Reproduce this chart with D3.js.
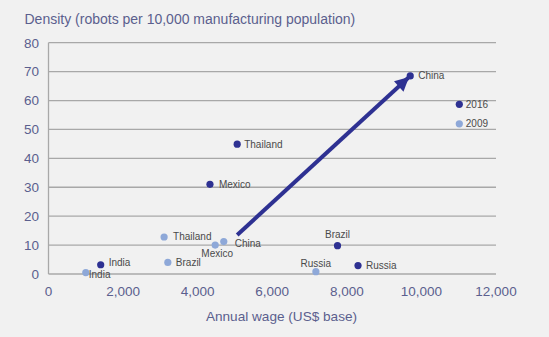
<!DOCTYPE html>
<html>
<head>
<meta charset="utf-8">
<script src="https://cdn.jsdelivr.net/npm/d3@7"></script>
<style>
  html, body { margin: 0; padding: 0; background: #f1f1f1; }
  svg { display: block; font-family: "Liberation Sans", Arial, sans-serif; }
</style>
</head>
<body>
<svg id="chart" width="549" height="337"></svg>
<script>
// Robot density vs annual manufacturing wage, 2009 and 2016
const countries   = ["China", "Thailand", "Mexico", "Brazil", "Russia", "India"];
const wage2016    = [9700, 5060, 4330, 7750, 8300, 1400];
const density2016 = [68.5, 44.9, 31.0, 9.8, 2.9, 3.2];
const wage2009    = [4700, 3100, 4470, 3200, 7170, 1000];
const density2009 = [11.2, 12.8, 10.0, 4.0, 0.8, 0.5];
const xTicks = [0, 2000, 4000, 6000, 8000, 10000, 12000];
const yTicks = [0, 10, 20, 30, 40, 50, 60, 70, 80];
const years  = ["2016", "2009"];
// China's move between the two years, drawn as an arrow
const arrowStart = [5060, 13.5];

// label placement per country: [dx, dy, anchor]
const place2016 = {
  China: [8, 0, "start"], Thailand: [7, 0, "start"], Mexico: [9, 0, "start"],
  Brazil: [0, -11, "middle"], Russia: [8, 0, "start"], India: [8, -2, "start"]
};
const place2009 = {
  China: [11, 1.5, "start"], Thailand: [9, 0, "start"], Mexico: [2, 8, "middle"],
  Brazil: [8, 0, "start"], Russia: [0, -8.5, "middle"], India: [3, 1.5, "start"]
};

const dark = "#2e3192", light = "#8ea8d8";
const axisText = "#5b5f8e", labelText = "#4a4a4a", grid = "#a8a8a8";

const svg = d3.select("#chart");
const x = d3.scaleLinear().domain([0, 12000]).range([48.5, 496]);
const y = d3.scaleLinear().domain([0, 80]).range([274, 42.7]);

// horizontal gridlines
svg.append("g").selectAll("line").data(yTicks).join("line")
  .attr("x1", x(0)).attr("x2", x(12000))
  .attr("y1", d => y(d)).attr("y2", d => y(d))
  .attr("stroke", grid).attr("stroke-width", 1.3);

// left axis line
svg.append("line")
  .attr("x1", x(0)).attr("x2", x(0)).attr("y1", y(80)).attr("y2", y(0))
  .attr("stroke", grid).attr("stroke-width", 1.3);

// y tick labels
svg.append("g").selectAll("text").data(yTicks).join("text")
  .attr("x", 39).attr("y", d => y(d)).attr("dy", "0.36em")
  .attr("text-anchor", "end").attr("font-size", 13.5).attr("fill", axisText)
  .text(d => d);

// x tick labels
const fmt = d3.format(",");
svg.append("g").selectAll("text").data(xTicks).join("text")
  .attr("x", d => x(d)).attr("y", 296)
  .attr("text-anchor", "middle").attr("font-size", 13.5).attr("fill", axisText)
  .text(d => fmt(d));

// axis titles
svg.append("text").attr("x", 24.5).attr("y", 23.5)
  .attr("font-size", 14).attr("fill", axisText)
  .text("Density (robots per 10,000 manufacturing population)");
svg.append("text").attr("x", 281.5).attr("y", 320.5)
  .attr("text-anchor", "middle").attr("font-size", 13.6).attr("fill", axisText)
  .text("Annual wage (US$ base)");

// arrow
const defs = svg.append("defs");
defs.append("marker").attr("id", "head")
  .attr("viewBox", "0 0 10 10").attr("refX", 9).attr("refY", 5)
  .attr("markerUnits", "userSpaceOnUse")
  .attr("markerWidth", 16).attr("markerHeight", 14).attr("orient", "auto")
  .append("path").attr("d", "M0,0 L10,5 L0,10 Z").attr("fill", dark);

const ci = countries.indexOf("China");
const x0 = x(arrowStart[0]), y0 = y(arrowStart[1]);
const x1 = x(wage2016[ci]), y1 = y(density2016[ci]);
const len = Math.hypot(x1 - x0, y1 - y0), back = 3;
svg.append("line")
  .attr("x1", x0).attr("y1", y0)
  .attr("x2", x1 - (x1 - x0) / len * back).attr("y2", y1 - (y1 - y0) / len * back)
  .attr("stroke", dark).attr("stroke-width", 4)
  .attr("marker-end", "url(#head)");

// points and labels
function drawSeries(wages, dens, color, place) {
  const rows = countries.map((c, i) => ({ c, w: wages[i], d: dens[i] }));
  const g = svg.append("g");
  g.selectAll("circle").data(rows).join("circle")
    .attr("cx", r => x(r.w)).attr("cy", r => y(r.d)).attr("r", 3.6)
    .attr("fill", color);
  g.selectAll("text").data(rows).join("text")
    .attr("x", r => x(r.w) + place[r.c][0])
    .attr("y", r => y(r.d) + place[r.c][1])
    .attr("dy", "0.35em")
    .attr("text-anchor", r => place[r.c][2])
    .attr("font-size", 10).attr("fill", labelText)
    .text(r => r.c);
}
drawSeries(wage2009, density2009, light, place2009);
drawSeries(wage2016, density2016, dark, place2016);

// legend
const legend = svg.append("g").attr("transform", "translate(459.3,104.3)");
years.forEach((yr, i) => {
  legend.append("circle").attr("cx", 0).attr("cy", i * 19.5).attr("r", 3.6)
    .attr("fill", i === 0 ? dark : light);
  legend.append("text").attr("x", 6.5).attr("y", i * 19.5).attr("dy", "0.36em")
    .attr("font-size", 10).attr("fill", labelText).text(yr);
});
</script>
</body>
</html>
